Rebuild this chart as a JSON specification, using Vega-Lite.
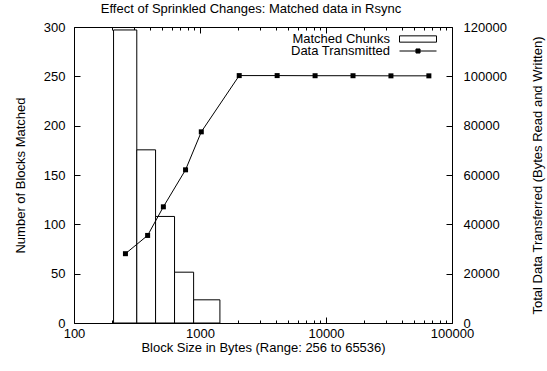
{
  "$schema": "https://vega.github.io/schema/vega-lite/v6.json",
  "width": 378,
  "height": 296,
  "autosize": "none",
  "padding": {"left": 74, "top": 27, "right": 95, "bottom": 48},
  "background": "white",
  "config": {
    "font": "Liberation Sans",
    "view": {"stroke": "black", "strokeWidth": 1},
    "axis": {
      "labelFont": "Liberation Sans",
      "labelFontSize": 13,
      "labelColor": "black",
      "titleFont": "Liberation Sans",
      "titleFontSize": 13,
      "titleFontWeight": "normal",
      "titleColor": "black",
      "grid": false,
      "domain": false,
      "tickColor": "black",
      "tickWidth": 1,
      "labelOverlap": false,
      "labelFlush": false,
      "labelBound": false
    },
    "legend": {
      "labelFont": "Liberation Sans",
      "labelFontSize": 13,
      "labelColor": "black",
      "padding": 0,
      "rowPadding": 0
    }
  },
  "title": {
    "text": "Effect of Sprinkled Changes: Matched data in Rsync",
    "font": "Liberation Sans",
    "fontSize": 13,
    "fontWeight": "normal",
    "color": "black",
    "dx": -12,
    "offset": 4
  },
  "layer": [
    {
      "data": {
        "values": [
          {"lo": 206, "hi": 315, "count": 297, "series": "Matched Chunks"},
          {"lo": 315, "hi": 444, "count": 175.5, "series": "Matched Chunks"},
          {"lo": 444, "hi": 628, "count": 108, "series": "Matched Chunks"},
          {"lo": 628, "hi": 890, "count": 51.5, "series": "Matched Chunks"},
          {"lo": 890, "hi": 1439, "count": 23.5, "series": "Matched Chunks"}
        ]
      },
      "mark": {"type": "rect", "fill": "white", "strokeWidth": 1},
      "encoding": {
        "x": {
          "field": "lo",
          "type": "quantitative",
          "scale": {"type": "log", "domain": [100, 100000], "nice": false},
          "axis": {
            "orient": "bottom",
            "title": "Block Size in Bytes (Range: 256 to 65536)",
            "values": [100, 200, 300, 400, 500, 600, 700, 800, 900, 1000, 2000, 3000, 4000, 5000, 6000, 7000, 8000, 9000, 10000, 20000, 30000, 40000, 50000, 60000, 70000, 80000, 90000, 100000],
            "format": "d",
            "labelExpr": "datum.value == 100 || datum.value == 1000 || datum.value == 10000 || datum.value == 100000 ? datum.label : ''",
            "tickSize": {"condition": {"test": "datum.value == 100 || datum.value == 1000 || datum.value == 10000 || datum.value == 100000", "value": -6}, "value": -3},
            "labelPadding": 10,
            "titlePadding": -2
          }
        },
        "x2": {"field": "hi"},
        "y": {
          "field": "count",
          "type": "quantitative",
          "scale": {"domain": [0, 300], "nice": false},
          "axis": {
            "orient": "left",
            "title": "Number of Blocks Matched",
            "values": [0, 50, 100, 150, 200, 250, 300],
            "tickSize": -6,
            "labelPadding": 15,
            "titlePadding": 16
          }
        },
        "y2": {"datum": 0},
        "stroke": {
          "field": "series",
          "type": "nominal",
          "scale": {"domain": ["Matched Chunks"], "range": ["black"]},
          "legend": {
            "title": null,
            "orient": "none",
            "legendX": 325,
            "legendY": -7,
            "labelAlign": "right",
            "labelOffset": -47,
            "symbolSize": 1369,
            "symbolType": "M-1,-0.17H1V0.17H-1Z",
            "symbolFillColor": "white",
            "symbolStrokeColor": "black",
            "symbolStrokeWidth": 1
          }
        }
      }
    },
    {
      "data": {
        "values": [
          {"size": 256, "bytes": 28100, "series": "Data Transmitted"},
          {"size": 384, "bytes": 35500, "series": "Data Transmitted"},
          {"size": 512, "bytes": 47100, "series": "Data Transmitted"},
          {"size": 768, "bytes": 62100, "series": "Data Transmitted"},
          {"size": 1024, "bytes": 77500, "series": "Data Transmitted"},
          {"size": 2048, "bytes": 100300, "series": "Data Transmitted"},
          {"size": 4096, "bytes": 100300, "series": "Data Transmitted"},
          {"size": 8192, "bytes": 100250, "series": "Data Transmitted"},
          {"size": 16384, "bytes": 100250, "series": "Data Transmitted"},
          {"size": 32768, "bytes": 100200, "series": "Data Transmitted"},
          {"size": 65536, "bytes": 100200, "series": "Data Transmitted"}
        ]
      },
      "encoding": {
        "x": {
          "field": "size",
          "type": "quantitative",
          "scale": {"type": "log", "domain": [100, 100000], "nice": false},
          "axis": {
            "orient": "top",
            "title": null,
            "labels": false,
            "values": [100, 200, 300, 400, 500, 600, 700, 800, 900, 1000, 2000, 3000, 4000, 5000, 6000, 7000, 8000, 9000, 10000, 20000, 30000, 40000, 50000, 60000, 70000, 80000, 90000, 100000],
            "tickSize": {"condition": {"test": "datum.value == 100 || datum.value == 1000 || datum.value == 10000 || datum.value == 100000", "value": -6}, "value": -3}
          }
        },
        "y": {
          "field": "bytes",
          "type": "quantitative",
          "scale": {"domain": [0, 120000], "nice": false},
          "axis": {
            "orient": "right",
            "title": "Total Data Transferred (Bytes Read and Written)",
            "titleAngle": 270,
            "values": [0, 20000, 40000, 60000, 80000, 100000, 120000],
            "format": "d",
            "tickSize": -6,
            "labelPadding": 17,
            "titlePadding": 38
          }
        }
      },
      "layer": [
        {"mark": {"type": "line", "stroke": "black", "strokeWidth": 1}},
        {
          "mark": {"type": "square", "filled": true, "size": 25, "opacity": 1},
          "encoding": {
            "fill": {
              "field": "series",
              "type": "nominal",
              "scale": {"domain": ["Data Transmitted"], "range": ["black"]},
              "legend": {
                "title": null,
                "orient": "none",
                "legendX": 325,
                "legendY": 5,
                "labelAlign": "right",
                "labelOffset": -47,
                "symbolSize": 1369,
                "symbolType": "M-1,0H1M-0.11,-0.11H0.11V0.11H-0.11Z",
                "symbolStrokeColor": "black",
                "symbolStrokeWidth": 1
              }
            }
          }
        }
      ]
    }
  ],
  "resolve": {"scale": {"y": "independent"}, "axis": {"x": "independent"}}
}
